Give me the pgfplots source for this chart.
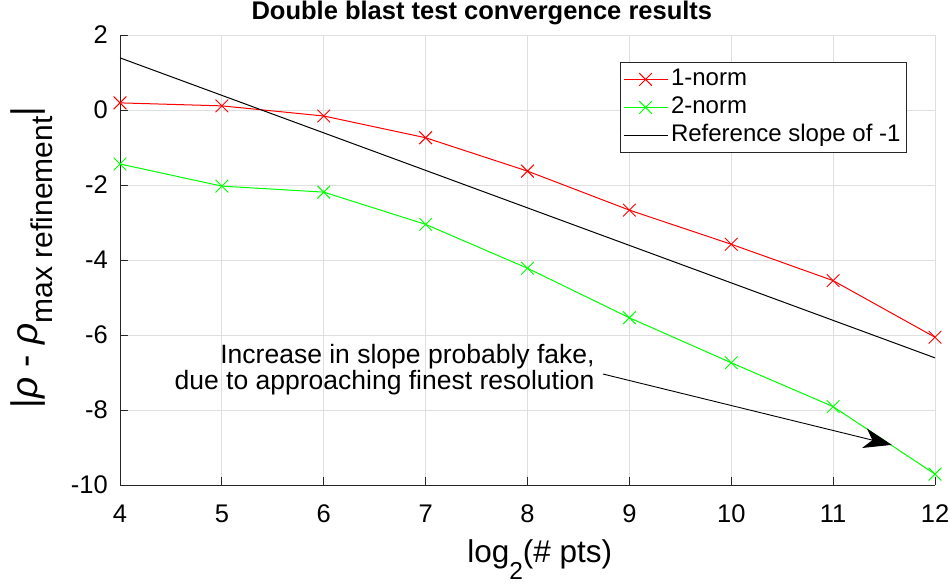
\documentclass[border=0pt]{standalone}
\usepackage{fontspec}
\setmainfont{Liberation Sans}
\usepackage{pgfplots}
\pgfplotsset{compat=1.18}
\usetikzlibrary{arrows.meta}
\definecolor{axgray}{rgb}{0.15,0.15,0.15}
\definecolor{gridgray}{rgb}{0.875,0.875,0.875}
\begin{document}
\begin{tikzpicture}
\begin{axis}[
  name=ax,
  scale only axis,
  width=815pt, height=450pt,
  xmin=4, xmax=12, ymin=-10, ymax=2,
  xtick={4,5,6,7,8,9,10,11,12},
  ytick={-10,-8,-6,-4,-2,0,2},
  xticklabels={4,5,6,7,8,9,10,11,12},
  yticklabels={-10,-8,-6,-4,-2,0,2},
  axis lines*=left,
  axis line style={axgray, line width=0.9pt},
  tick align=inside,
  major tick length=8pt,
  tick style={axgray, line width=0.9pt},
  grid=major,
  major grid style={gridgray, line width=0.9pt},
  ticklabel style={font=\fontsize{25.5}{30}\selectfont, text=black},
  xticklabel style={anchor=base, inner sep=0pt, yshift=-37pt},
  yticklabel style={anchor=east, inner sep=0pt, xshift=-12pt},
  clip=false,
  title={Double blast test convergence results},
  title style={at={(axis description cs:0.444,1.02)}, anchor=base, inner sep=0pt, font=\bfseries\fontsize{25.5}{30}\selectfont},
  xlabel={log\raisebox{-17pt}{\fontsize{24.5}{25}\selectfont 2}(\# pts)},
  xlabel style={at={(axis description cs:0.515,-0.1711)}, anchor=base, inner sep=0pt, font=\fontsize{31.5}{36}\selectfont},
  ylabel={|\textit{ρ} - \textit{ρ}\raisebox{-15pt}{\fontsize{30}{30}\selectfont max refinement}|},
  ylabel style={at={(axis description cs:-0.1018,0.5056)}, anchor=base, rotate=0, inner sep=0pt, font=\fontsize{37}{40}\selectfont},
  legend style={at={(rel axis cs:0.9656,0.94)}, anchor=north east, draw=axgray, line width=0.9pt, fill=white,
    font=\fontsize{24}{28}\selectfont, inner sep=3pt, row sep=0pt,
    nodes={inner sep=3pt, text height=17pt, text depth=5pt}},
  legend cell align=left,
  legend image code/.code={\draw[mark repeat=2,mark phase=2,#1] plot coordinates {(0pt,0pt) (22pt,0pt) (44pt,0pt)};},
]
\addplot[red, line width=1pt, mark=x, mark size=9pt, mark options={solid}] coordinates {
 (4,0.19) (5,0.11) (6,-0.16) (7,-0.74) (8,-1.63) (9,-2.67) (10,-3.58) (11,-4.55) (12,-6.06)};
\addlegendentry{1-norm}
\addplot[green, line width=1pt, mark=x, mark size=9pt, mark options={solid}] coordinates {
 (4,-1.44) (5,-2.03) (6,-2.19) (7,-3.05) (8,-4.22) (9,-5.54) (10,-6.74) (11,-7.91) (12,-9.71)};
\addlegendentry{2-norm}
\addplot[black, line width=1pt] coordinates {(4,1.39) (12,-6.61)};
\addlegendentry{Reference slope of -1}
\node[anchor=east, align=right, inner sep=0pt, font=\fontsize{26.5}{26}\selectfont] at (axis cs:8.66,-6.93) {Increase in slope probably fake,\\due to approaching finest resolution};
\draw[line width=0.9pt, -{Stealth[length=28pt,width=20pt,inset=8pt]}] (axis cs:8.74,-7.04) -- (axis cs:11.576,-8.93);
\end{axis}
\pgfresetboundingbox
\path[use as bounding box] ([shift={(-120pt,-101pt)}]ax.south west) rectangle ([shift={(15pt,35pt)}]ax.north east);
\end{tikzpicture}
\end{document}
